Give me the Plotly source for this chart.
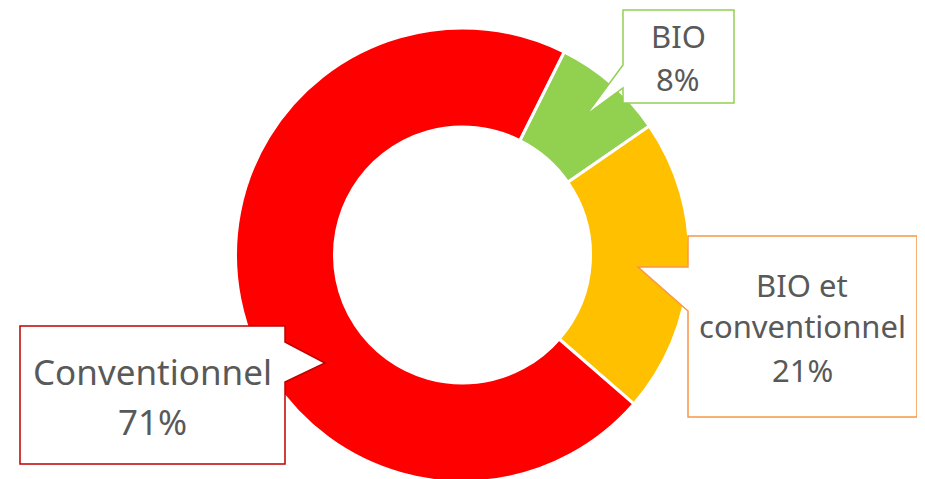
import plotly.graph_objects as go

categories = ["BIO", "BIO et conventionnel", "Conventionnel"]
values = [8, 21, 71]
colors = ["#92D050", "#FFC000", "#FF0000"]
label_lines = [["BIO", "8%"], ["BIO et", "conventionnel", "21%"], ["Conventionnel", "71%"]]

W, H = 925, 479
OFF = 8          # page body margin offset
MT, MB = 20, 5
PH = H - MT - MB
R = PH / 2
CX = 462.5 - OFF

def px(x):
    return (x - OFF) / W

def py(y):
    return (H - MB - (y - OFF)) / PH

fig = go.Figure(go.Pie(
    labels=categories,
    values=values,
    marker=dict(colors=colors, line=dict(color="white", width=3)),
    hole=0.564,
    sort=False,
    direction="clockwise",
    rotation=26.6,
    textinfo="none",
    hoverinfo="label+percent",
    domain=dict(x=[(CX - R) / W, (CX + R) / W], y=[0, 1]),
    showlegend=False,
))

def callout(points, color):
    d = "M " + " L ".join(f"{px(x):.5f},{py(y):.5f}" for x, y in points) + " Z"
    return dict(type="path", path=d, xref="paper", yref="paper",
                fillcolor="white", line=dict(color=color, width=1.5), layer="above")

shapes = [
    callout([(623, 10), (734, 10), (734, 103), (623, 103), (623, 88), (586, 115), (623, 65)], "#92D050"),
    callout([(688, 236), (917, 236), (917, 417), (688, 417), (688, 311), (638, 267), (688, 267)], "#F79646"),
    callout([(20, 326), (285, 326), (285, 342), (325, 363), (285, 382), (285, 464), (20, 464)], "#C00000"),
]

FONT = "Noto Sans"
label_pos = [
    (678, [36, 79], 31),
    (802, [284.5, 326, 370], 31),
    (152, [371.5, 421], 35),
]
annotations = []
for lines, (cx, ys, size) in zip(label_lines, label_pos):
    for txt, yy in zip(lines, ys):
        annotations.append(dict(
            x=px(cx), y=py(yy), text=txt, xref="paper", yref="paper",
            showarrow=False, xanchor="center", yanchor="middle",
            font=dict(size=size, color="#595959", family=FONT),
        ))

fig.update_layout(
    width=W, height=H,
    margin=dict(l=0, r=0, t=MT, b=MB),
    paper_bgcolor="white", plot_bgcolor="white",
    shapes=shapes, annotations=annotations,
)

fig.write_html("out.html")
